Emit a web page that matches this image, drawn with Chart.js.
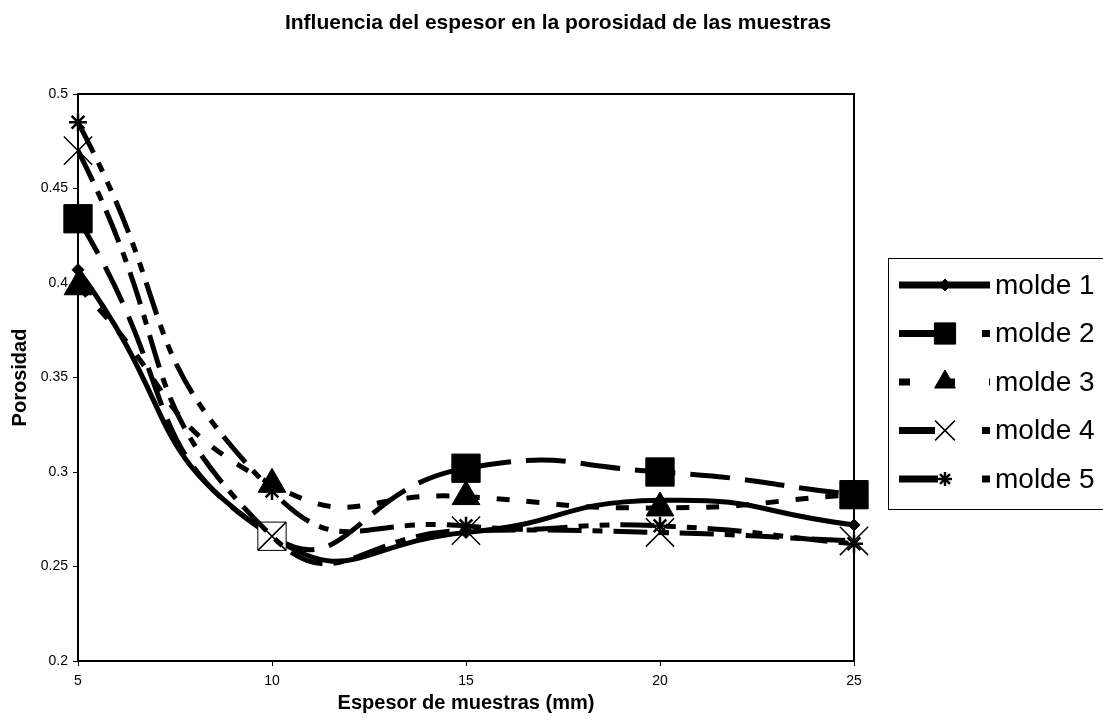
<!DOCTYPE html>
<html>
<head>
<meta charset="utf-8">
<title>Influencia del espesor en la porosidad de las muestras</title>
<script src="https://cdn.jsdelivr.net/npm/chart.js@4.4.1/dist/chart.umd.min.js"></script>
<style>
  html, body { margin: 0; padding: 0; background: #fff; }
  #wrap { width: 1103px; height: 723px; }
</style>
</head>
<body>
<div id="wrap"><canvas id="porosidad"></canvas></div>
<script>
// Espesor (mm) y porosidad medida para cada molde
const espesores = [5, 10, 15, 20, 25];
const molde1 = [0.407, 0.266, 0.268, 0.285, 0.272];
const molde2 = [0.434, 0.266, 0.302, 0.300, 0.288];
const molde3 = [0.398, 0.2935, 0.287, 0.281, 0.288];
const molde4 = [0.470, 0.266, 0.269, 0.268, 0.2635];
const molde5 = [0.485, 0.290, 0.2715, 0.2715, 0.262];
const nombres = ['molde 1', 'molde 2', 'molde 3', 'molde 4', 'molde 5'];
const yTicks = [0.2, 0.25, 0.3, 0.35, 0.4, 0.45, 0.5];
const titulo = 'Influencia del espesor en la porosidad de las muestras';

const FONT = 'Arial, "Liberation Sans", sans-serif';

function toPoints(values) {
    return espesores.map((x, i) => ({ x: x, y: values[i] }));
}

// one entry per series: line dash, legend dash, marker, marker sizes (plot / legend)
const estilos = [
    { dash: [], legendDash: [], marker: 'rectRot', radius: 6, legendRadius: 6, markerBorder: 1 },
    { dash: [40, 15], legendDash: [36, 47], marker: 'rect', radius: 20, legendRadius: 15, markerBorder: 1 },
    { dash: [13, 17], legendDash: [11, 34], marker: 'triangle', radius: 16, legendRadius: 12, markerBorder: 1 },
    { dash: [34, 11, 10, 11], legendDash: [36, 47], marker: 'crossRot', radius: 20, legendRadius: 14, markerBorder: 1.5 },
    { dash: [34, 11, 10, 11, 10, 11], legendDash: [39, 44], marker: 'star', radius: 9, legendRadius: 7, markerBorder: 2.5 },
];

// the 10 mm square of molde 2 is drawn hollow
const relleno2 = ['#000', '#fff', '#000', '#000', '#000'];

const series = [molde1, molde2, molde3, molde4, molde5];
const datasets = series.map((values, i) => {
    const e = estilos[i];
    return {
        label: nombres[i],
        data: toPoints(values),
        borderColor: '#000',
        backgroundColor: '#000',
        borderWidth: 5,
        borderDash: e.dash,
        borderCapStyle: 'butt',
        borderJoinStyle: 'round',
        tension: 0.55,
        fill: false,
        clip: false,
        pointStyle: e.marker,
        pointRadius: e.radius,
        pointHoverRadius: e.radius,
        pointBackgroundColor: i === 1 ? relleno2 : '#000',
        pointBorderColor: '#000',
        pointBorderWidth: e.markerBorder,
        order: series.length - i,
    };
});

// plot frame, drawn under the series
const marco = {
    id: 'marco',
    beforeDatasetsDraw(chart) {
        const { ctx, chartArea: a } = chart;
        ctx.save();
        ctx.strokeStyle = '#000';
        ctx.lineWidth = 2;
        ctx.strokeRect(a.left, a.top, a.right - a.left, a.bottom - a.top);
        ctx.restore();
    }
};

// chart title and boxed legend on the right side
const leyenda = {
    id: 'leyenda',
    afterDraw(chart) {
        const ctx = chart.ctx;
        ctx.save();
        ctx.fillStyle = '#000';
        ctx.strokeStyle = '#000';
        ctx.font = 'bold 21px ' + FONT;
        ctx.textAlign = 'center';
        ctx.textBaseline = 'middle';
        ctx.fillText(titulo, 558, 23);

        ctx.lineWidth = 1;
        ctx.strokeRect(888.5, 258.5, 240, 251);
        ctx.font = '28px ' + FONT;
        ctx.textAlign = 'left';
        chart.data.datasets.forEach((ds, i) => {
            const y = 285 + i * 48.5;
            const e = estilos[i];
            ctx.lineWidth = 7;
            ctx.lineCap = 'butt';
            ctx.setLineDash(e.legendDash);
            ctx.beginPath();
            ctx.moveTo(899, y);
            ctx.lineTo(990, y);
            ctx.stroke();
            ctx.setLineDash([]);
            ctx.lineWidth = e.markerBorder;
            Chart.helpers.drawPoint(ctx, {
                pointStyle: e.marker,
                radius: e.legendRadius,
                rotation: 0,
                borderWidth: e.markerBorder
            }, 945, y);
            ctx.fillText(ds.label, 995, y + 1);
        });
        ctx.restore();
    }
};

new Chart(document.getElementById('porosidad'), {
    type: 'line',
    data: { datasets: datasets },
    options: {
        responsive: true,
        maintainAspectRatio: false,
        animation: false,
        events: [],
        layout: { padding: { left: 0, right: 249, top: 94, bottom: 0 } },
        scales: {
            x: {
                type: 'linear',
                min: 5,
                max: 25,
                afterFit: (scale) => { scale.height = 62; },
                afterBuildTicks: (scale) => {
                    scale.ticks = espesores.map(v => ({ value: v }));
                },
                ticks: {
                    color: '#000',
                    font: { family: FONT, size: 14 },
                    padding: 7,
                    maxRotation: 0,
                },
                grid: { display: true, drawOnChartArea: false, drawTicks: true, tickLength: 5, color: '#000', lineWidth: 1 },
                border: { display: true, color: '#000', width: 2 },
                title: {
                    display: true,
                    text: 'Espesor de muestras (mm)',
                    color: '#000',
                    font: { family: FONT, size: 20, weight: 'bold' },
                    padding: { top: 0, bottom: 8 },
                },
            },
            y: {
                type: 'linear',
                min: 0.2,
                max: 0.5,
                afterFit: (scale) => { scale.width = 78; },
                afterBuildTicks: (scale) => {
                    scale.ticks = yTicks.map(v => ({ value: v }));
                },
                ticks: {
                    color: '#000',
                    font: { family: FONT, size: 14 },
                    padding: 5,
                    callback: (v) => String(Number(v.toFixed(2))),
                },
                grid: { display: true, drawOnChartArea: false, drawTicks: true, tickLength: 5, color: '#000', lineWidth: 1 },
                border: { display: true, color: '#000', width: 2 },
                title: {
                    display: true,
                    text: 'Porosidad',
                    color: '#000',
                    font: { family: FONT, size: 20, weight: 'bold' },
                    padding: { top: 8, bottom: 0 },
                },
            },
        },
        plugins: {
            legend: { display: false },
            tooltip: { enabled: false },
            title: { display: false },
        },
    },
    plugins: [marco, leyenda],
});
</script>
</body>
</html>
